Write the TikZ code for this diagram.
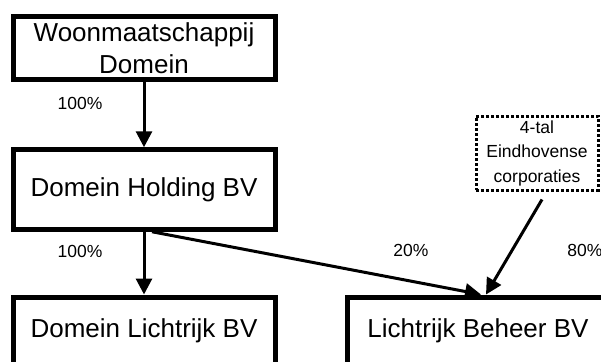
\documentclass[tikz,border=0pt]{standalone}
\usepackage{fontspec}
\setmainfont{Liberation Sans}
\usetikzlibrary{arrows.meta}

\begin{document}
\begin{tikzpicture}[x=1pt,y=-1pt,
  box/.style={draw,line width=5pt,minimum width=262pt,align=center,inner sep=0pt,font=\fontsize{26}{32}\selectfont},
  dotbox/.style={draw,line width=3pt,dash pattern=on 3pt off 2pt,minimum width=122pt,minimum height=74pt,align=center,inner sep=0pt,font=\fontsize{17.5}{24.5}\selectfont},
  arr/.style={-{Triangle[length=16pt,width=16pt]},line width=3pt},
  lbl/.style={font=\fontsize{17.5}{21}\selectfont}]
\clip (0,0) rectangle (601,361);
\node[box,minimum height=63.5pt] (woon) at (144,48) {Woonmaatschappij\\Domein};
\node[box,minimum height=79.5pt] (hold) at (144,189.5) {Domein Holding BV};
\node[box,minimum height=68pt] (dlr) at (144,331) {Domein Lichtrijk BV};
\node[box,minimum height=68pt] (beh) at (478,331) {Lichtrijk Beheer BV};
\node[dotbox] (corp) at (537,153) {4-tal\\Eindhovense\\corporaties};
\node[lbl] (p1) at (80,103) {100\%};
\node[lbl] (p2) at (80,251) {100\%};
\node[lbl] (p3) at (411,250) {20\%};
\node[lbl] (p4) at (585,250) {80\%};
\draw[arr] (woon) -- (hold);
\draw[arr] (hold) -- (dlr);
\draw[arr] ([xshift=8pt]hold.south) -- ([xshift=3pt]beh.north);
\draw[arr] ([xshift=5pt,yshift=-8pt]corp.south) -- ([xshift=8pt]beh.north);
\end{tikzpicture}
\end{document}
